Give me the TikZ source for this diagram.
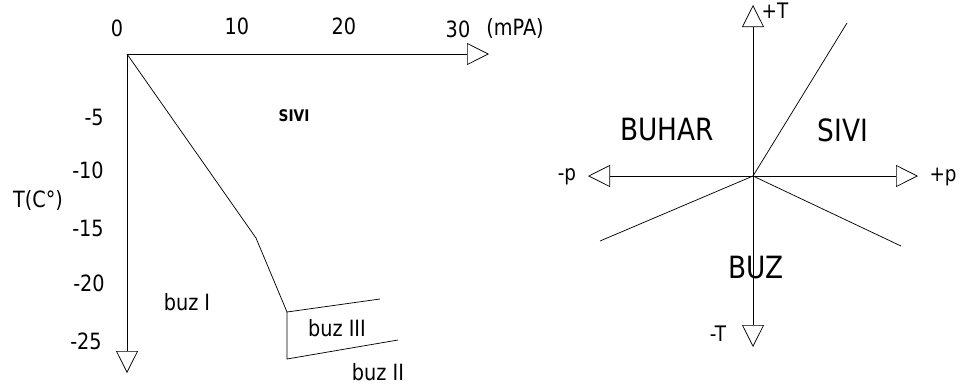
\documentclass[tikz,border=0pt]{standalone}
\usepackage{fontspec}
\setmainfont{DejaVu Sans}[FakeStretch=0.86]
\usetikzlibrary{arrows.meta}
\begin{document}
\begin{tikzpicture}[x=0.75pt,y=-0.75pt,
  axis/.style={line width=0.65pt,-{Triangle[open,length=16.5pt,width=16.5pt,line width=0.55pt]}},
  bline/.style={line width=0.55pt},
  lbl/.style={inner sep=0pt,font=\fontsize{16.8}{19}\selectfont},
  big/.style={inner sep=0pt,font=\fontsize{23}{27}\selectfont},
  axl/.style={inner sep=0pt,font=\fontsize{16}{19}\selectfont},
  small/.style={inner sep=0pt,font=\fontsize{12}{14}\selectfont\bfseries}]
\useasboundingbox (0,0) rectangle (960,387);
% left diagram
\coordinate (O) at (127,54);
\coordinate (X) at (489,54);
\coordinate (Y) at (127,373);
\coordinate (K1) at (256,238);
\coordinate (K2) at (287,312);
\coordinate (B3) at (287,359);
\coordinate (E1) at (380,299);
\coordinate (E2) at (398,340);
\draw[axis] (O) -- (X);
\draw[axis] (O) -- (Y);
\draw[bline] (O) -- (K1) -- (K2) -- (E1);
\draw[bline] (K2) -- (B3) -- (E2);
\node[lbl] (n0) at (117,28) {0};
\node[lbl] (n10) at (237,26) {10};
\node[lbl] (n20) at (344,26) {20};
\node[lbl] (n30) at (458,29) {30};
\node[lbl] (mpa) at (515,28) {(mPA)};
\node[lbl,anchor=east] (m5) at (104,117.7) {-5};
\node[lbl,anchor=east] (m10) at (104,170) {-10};
\node[lbl] (tc) at (38,200) {T(C°)};
\node[lbl,anchor=east] (m15) at (104,228) {-15};
\node[lbl,anchor=east] (m20) at (105,283) {-20};
\node[lbl,anchor=east] (m25) at (102,341) {-25};
\node[small] (sivi1) at (294,116) {SIVI};
\node[lbl] (buz1) at (187,302) {buz I};
\node[lbl] (buz3) at (337,328) {buz III};
\node[lbl] (buz2) at (378,372) {buz II};
% right diagram
\coordinate (C) at (753,176);
\coordinate (U) at (753,5);
\coordinate (D) at (753,347);
\coordinate (R) at (918,176);
\coordinate (L) at (588,176);
\coordinate (L1) at (847,23);
\coordinate (L2) at (600,241);
\coordinate (L3) at (901,246);
\draw[axis] (C) -- (U);
\draw[axis] (C) -- (D);
\draw[axis] (C) -- (R);
\draw[axis] (C) -- (L);
\draw[bline] (C) -- (L1);
\draw[bline] (C) -- (L2);
\draw[bline] (C) -- (L3);
\node[axl] (pT) at (775,11) {+T};
\node[axl] (pp) at (943,177) {+p};
\node[axl] (mp) at (567,177) {-p};
\node[axl] (mT) at (718,334) {-T};
\node[big] (buhar) at (667,130) {BUHAR};
\node[big] (sivi2) at (843,130) {SIVI};
\node[big] (buz) at (756,268) {BUZ};
\end{tikzpicture}
\end{document}
